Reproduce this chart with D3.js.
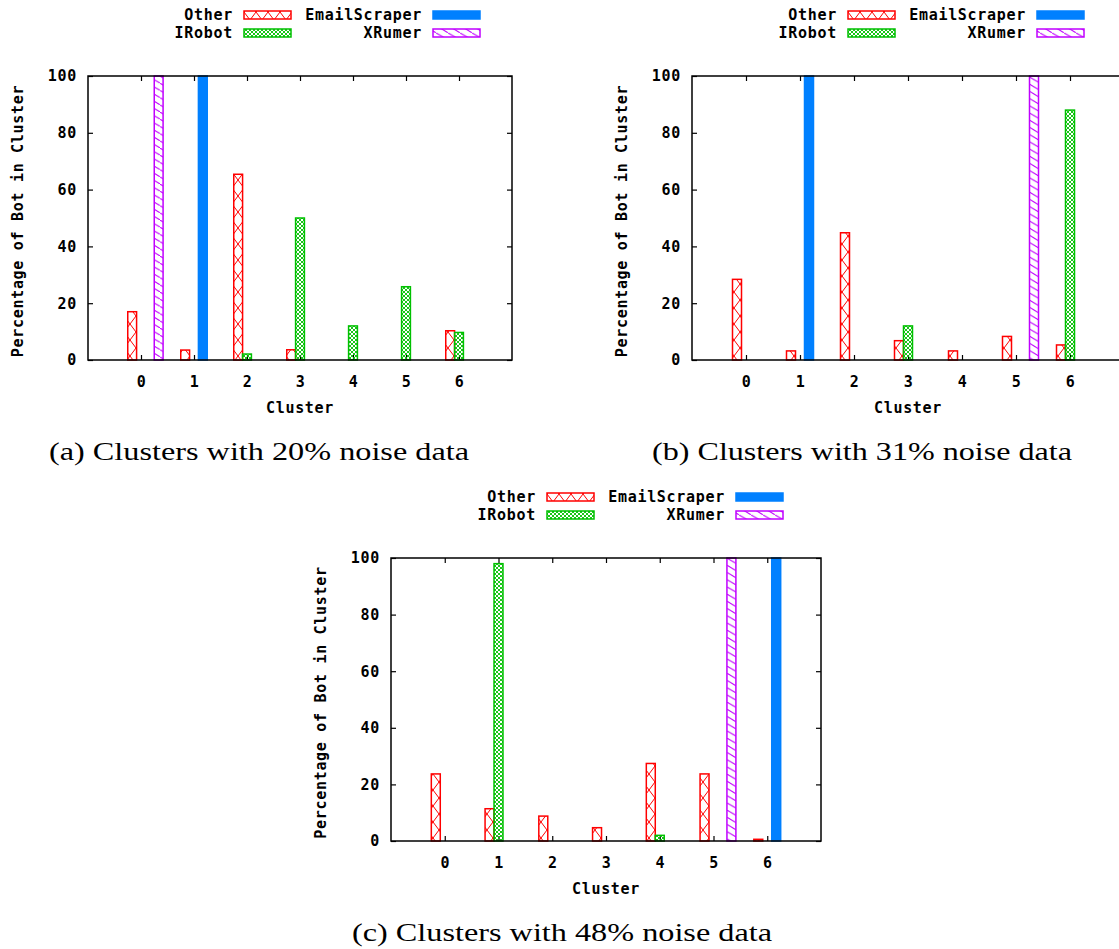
<!DOCTYPE html>
<html>
<head>
<meta charset="utf-8">
<script src="https://cdn.jsdelivr.net/npm/d3@7"></script>
<style>
  body { margin: 0; background: #fff; }
  .mono { font-family: "DejaVu Sans Mono", monospace; font-weight: bold; font-size: 15px; letter-spacing: 0.7px; fill: #000; }
  .cap { font-family: "Liberation Serif", serif; font-size: 25px; fill: #000; }
</style>
</head>
<body>
<div id="chart"></div>
<script>
// categories and tick labels
var clusters = [0, 1, 2, 3, 4, 5, 6];
var seriesNames = ["Other", "IRobot", "EmailScraper", "XRumer"];
var yTicks = [0, 20, 40, 60, 80, 100];

// (a) 20% noise
var otherA  = [17.0, 3.5, 65.4, 3.6, 0, 0, 10.3];
var irobotA = [0, 0, 2.1, 50.0, 12.0, 25.8, 9.7];
var emailA  = [0, 100, 0, 0, 0, 0, 0];
var xrumerA = [100, 0, 0, 0, 0, 0, 0];

// (b) 31% noise
var otherB  = [28.4, 3.2, 44.8, 6.8, 3.2, 8.3, 5.3];
var irobotB = [0, 0, 0, 12.0, 0, 0, 88.0];
var emailB  = [0, 100, 0, 0, 0, 0, 0];
var xrumerB = [0, 0, 0, 0, 0, 100, 0];

// (c) 48% noise
var otherC  = [23.7, 11.4, 8.8, 4.7, 27.4, 23.7, 0.6];
var irobotC = [0, 98.0, 0, 0, 2.0, 0, 0];
var emailC  = [0, 0, 0, 0, 0, 0, 100];
var xrumerC = [0, 0, 0, 0, 0, 100, 0];

var captions = ["(a) Clusters with 20% noise data",
                "(b) Clusters with 31% noise data",
                "(c) Clusters with 48% noise data"];

var colors = ["#ff0000", "#00c000", "#0080ff", "#c000ff"];
var fills = ["url(#pOther)", "url(#pIRobot)", "#0080ff", "url(#pXRumer)"];

var svg = d3.select("#chart").append("svg")
  .attr("width", 1119)
  .attr("height", 949);

// fill patterns (gnuplot style)
var defs = svg.append("defs");
var p1 = defs.append("pattern").attr("id", "pOther")
  .attr("patternUnits", "userSpaceOnUse").attr("width", 12).attr("height", 16);
p1.append("path").attr("d", "M-1.5,-2L13.5,18M13.5,-2L-1.5,18")
  .attr("stroke", colors[0]).attr("stroke-width", 1).attr("fill", "none");

var p2 = defs.append("pattern").attr("id", "pIRobot")
  .attr("patternUnits", "userSpaceOnUse").attr("width", 4).attr("height", 4);
p2.append("path").attr("d", "M-1,-1L5,5M5,-1L-1,5")
  .attr("stroke", colors[1]).attr("stroke-width", 0.9).attr("fill", "none");

var p3 = defs.append("pattern").attr("id", "pXRumer")
  .attr("patternUnits", "userSpaceOnUse").attr("width", 12).attr("height", 7.2);
p3.append("path").attr("d", "M-1.5,-0.9L13.5,8.1")
  .attr("stroke", colors[3]).attr("stroke-width", 1).attr("fill", "none");

function drawPanel(L, T, W, H, data, caption, capX, capY) {
  var g = svg.append("g").attr("transform", "translate(" + L + "," + T + ")");

  var x = d3.scaleLinear().domain([-1, 7]).range([0, W]);
  var y = d3.scaleLinear().domain([0, 100]).range([H, 0]);
  var unit = x(1) - x(0);
  var bw = unit / 6;

  // axes with inward ticks
  var left = g.append("g")
    .call(d3.axisLeft(y).tickValues(yTicks).tickSize(-5).tickSizeOuter(0).tickPadding(11));
  var bottom = g.append("g").attr("transform", "translate(0," + H + ")")
    .call(d3.axisBottom(x).tickValues(clusters).tickSize(-5).tickSizeOuter(0).tickPadding(16));
  var top = g.append("g")
    .call(d3.axisTop(x).tickValues(clusters).tickSize(-5).tickSizeOuter(0).tickFormat(""));
  var right = g.append("g").attr("transform", "translate(" + W + ",0)")
    .call(d3.axisRight(y).tickValues(yTicks).tickSize(-5).tickSizeOuter(0).tickFormat(""));
  [left, bottom, top, right].forEach(function (a) {
    a.attr("font-size", null).attr("font-family", null);
    a.select(".domain").remove();
    a.selectAll("line").attr("stroke", "#000").attr("stroke-width", 1.2);
    a.selectAll("text").attr("class", "mono");
  });

  // bars
  data.forEach(function (vals, j) {
    g.append("g").selectAll("rect")
      .data(clusters.filter(function (c) { return vals[c] > 0; }))
      .enter().append("rect")
      .attr("x", function (c) { return x(c) + (j - 1) * bw - bw / 2; })
      .attr("y", function (c) { return y(vals[c]); })
      .attr("width", bw)
      .attr("height", function (c) { return y(0) - y(vals[c]); })
      .attr("fill", fills[j])
      .attr("stroke", colors[j])
      .attr("stroke-width", 1.5);
  });

  // border
  g.append("rect").attr("x", 0).attr("y", 0).attr("width", W).attr("height", H)
    .attr("fill", "none").attr("stroke", "#000").attr("stroke-width", 1.5);

  // axis titles
  g.append("text").attr("class", "mono")
    .attr("transform", "translate(" + (-70) + "," + (H / 2 + 3) + ") rotate(-90)")
    .attr("text-anchor", "middle").attr("dy", "0.35em")
    .text("Percentage of Bot in Cluster");
  g.append("text").attr("class", "mono")
    .attr("x", W / 2).attr("y", H + 48).attr("dy", "0.35em")
    .attr("text-anchor", "middle")
    .text("Cluster");

  // legend
  var leg = [
    { name: seriesNames[0], tx: 145, sx: 156, row: 0 },
    { name: seriesNames[2], tx: 334, sx: 345, row: 0 },
    { name: seriesNames[1], tx: 145, sx: 156, row: 1 },
    { name: seriesNames[3], tx: 334, sx: 345, row: 1 }
  ];
  leg.forEach(function (d) {
    var j = seriesNames.indexOf(d.name);
    var cy = -61 + d.row * 18;
    g.append("text").attr("class", "mono")
      .attr("x", d.tx).attr("y", cy).attr("dy", "0.35em")
      .attr("text-anchor", "end").text(d.name);
    g.append("rect").attr("x", d.sx).attr("y", cy - 4)
      .attr("width", 47).attr("height", 8)
      .attr("fill", fills[j]).attr("stroke", colors[j]).attr("stroke-width", 1.5);
  });

  svg.append("text").attr("class", "cap")
    .attr("x", capX).attr("y", capY)
    .attr("text-anchor", "middle")
    .attr("textLength", 420).attr("lengthAdjust", "spacingAndGlyphs")
    .text(caption);
}

drawPanel(88, 76, 424, 284, [otherA, irobotA, emailA, xrumerA], captions[0], 259, 460);
drawPanel(692, 76, 432, 284, [otherB, irobotB, emailB, xrumerB], captions[1], 862, 460);
drawPanel(391, 558, 430, 283, [otherC, irobotC, emailC, xrumerC], captions[2], 562, 941);
</script>
</body>
</html>
